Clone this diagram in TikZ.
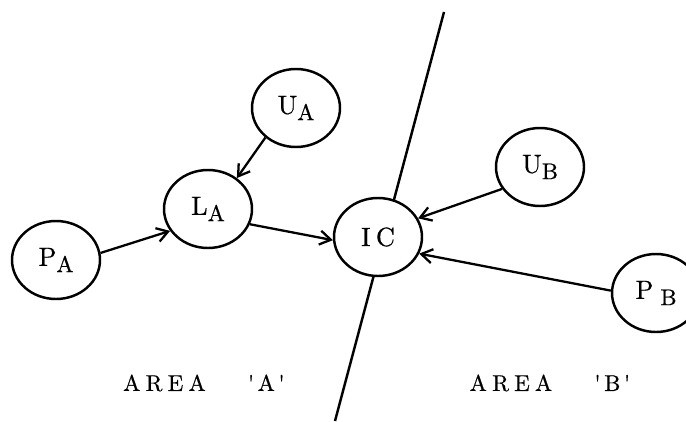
\documentclass[tikz,border=0pt]{standalone}
\usepackage{fontspec}
\newfontfamily\plate[FakeBold=0.6]{lmroman10-regular.otf}
\usetikzlibrary{positioning,calc,arrows,arrows.meta,shapes.geometric}
\tikzset{font=\plate\fontsize{15}{17}\selectfont}
\newcommand{\lowsub}[1]{\raisebox{-0.55ex}{\fontsize{13}{15}\selectfont #1}}
\newcommand{\tick}{\textquotesingle}
\tikzset{
	unit/.style={ellipse, draw, line width=1.4pt, fill=white, inner sep=0pt,
		minimum width=1.76cm, minimum height=1.56cm},
	flow/.style={line width=1.3pt, -{Straight Barb[length=2.2mm, width=2.8mm]}},
	area/.style={font=\plate\fontsize{13}{15}\selectfont}
}

\begin{document}
\begin{tikzpicture}
	\useasboundingbox (0, 0) rectangle (13.72, 8.42);
	\begin{scope}
		% boundary between the two areas
		\coordinate (top) at (8.88, 8.18);
		\coordinate (bot) at (6.70, 0);
		\draw[line width=1.4pt] (top) -- (bot);

		\node[unit] (pa) at (1.12, 3.22)  {P\lowsub{A}};
		\node[unit] (la) at (4.16, 4.24)  {L\lowsub{A}};
		\node[unit] (ua) at (5.92, 6.26)  {U\lowsub{A}};
		\node[unit] (ic) at (7.56, 3.68)  {I\kern3pt C};
		\node[unit] (ub) at (10.80, 5.08) {U\lowsub{B}};
		\node[unit] (pb) at (13.12, 2.56) {P\kern4pt\lowsub{B}};

		\draw[flow] (pa.9)   -- (la.210);
		\draw[flow] (ua.224) -- (la.47);
		\draw[flow] (la.-20) -- (ic.184);
		\draw[flow] (ub.210) -- (ic.25);
		\draw[flow] (pb.177) -- (ic.-22);

		\node[area] (areaa) at (4.08, 0.76)
			{A\kern3pt R\kern3pt E\kern3pt A\kern24pt\tick\kern2pt A\kern2pt\tick};
		\node[area] (areab) at (11.00, 0.76)
			{A\kern3pt R\kern3pt E\kern3pt A\kern24pt\tick\kern2pt B\kern2pt\tick};
	\end{scope}
\end{tikzpicture}
\end{document}
